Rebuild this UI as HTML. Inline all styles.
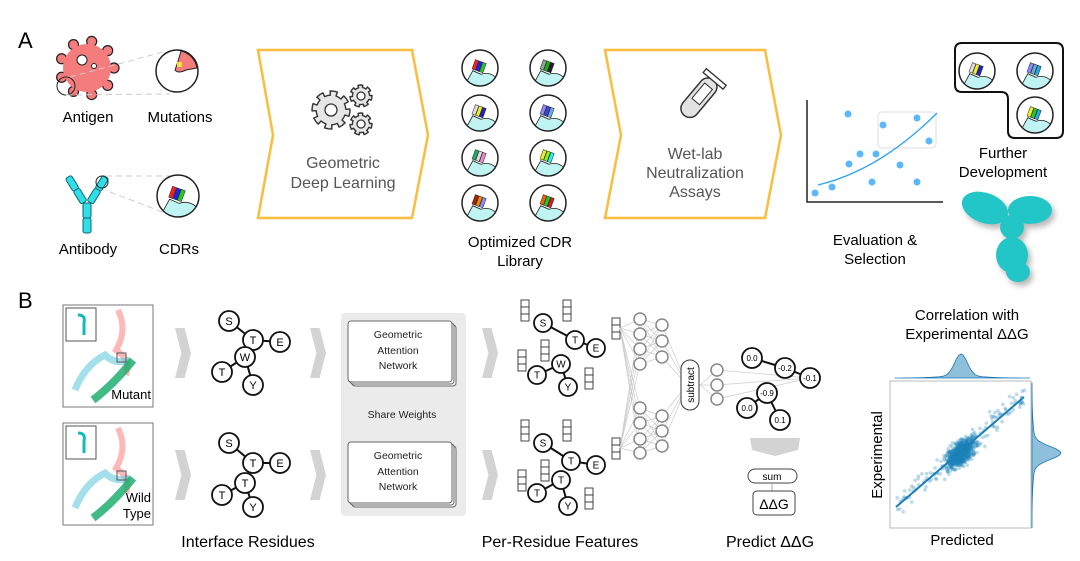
<!DOCTYPE html>
<html><head><meta charset="utf-8"><style>
html,body{margin:0;padding:0;background:#fff}
svg{display:block}
text{font-family:"Liberation Sans",sans-serif}
</style></head><body>
<svg id="s" width="1080" height="561" viewBox="0 0 1080 561" xmlns="http://www.w3.org/2000/svg">
<rect width="1080" height="561" fill="#fff"/>
<!-- A -->
<text x="18" y="48" font-size="22">A</text>
<g id="virus">
<circle cx="87" cy="68" r="22" fill="#f47c7c" stroke="#222" stroke-width="1.5"/>
</g>
<circle cx="82" cy="60" r="5" fill="#fff" stroke="#222"/>
<circle cx="94" cy="66" r="2.5" fill="#fff" stroke="#222"/>
<circle cx="66" cy="86" r="9" fill="none" stroke="#222"/>
<line x1="70" y1="77" x2="163" y2="52" stroke="#ccc" stroke-dasharray="6,4"/>
<line x1="66" y1="95" x2="170" y2="94" stroke="#ccc" stroke-dasharray="6,4"/>
<circle cx="177" cy="71" r="21" fill="#fff" stroke="#222" stroke-width="1.5"/>
<path d="M181 51 A21 21 0 0 1 197 68 L186 70 Q178 74 175 70 Q178 62 181 51Z" fill="#f47c7c" stroke="#222"/>
<rect x="177" y="62" width="5" height="5" fill="#f4e23a"/>
<text x="88" y="122" font-size="15" text-anchor="middle">Antigen</text>
<text x="180" y="122" font-size="15" text-anchor="middle">Mutations</text>
<!-- antibody -->
<g fill="#2fdfe6" stroke="#167" stroke-width="1">
<rect x="83" y="203" width="8" height="15" rx="2"/>
<rect x="83" y="218" width="8" height="15" rx="2"/>
<g transform="rotate(-32 85 203)"><rect x="81" y="172" width="7" height="15" rx="2"/><rect x="81" y="187" width="7" height="15" rx="2"/></g>
<g transform="rotate(32 89 203)"><rect x="86" y="172" width="7" height="15" rx="2"/><rect x="86" y="187" width="7" height="15" rx="2"/></g>
</g>
<circle cx="102" cy="182" r="6" fill="none" stroke="#222"/>
<line x1="106" y1="176" x2="170" y2="176" stroke="#ccc" stroke-dasharray="6,4"/>
<line x1="110" y1="192" x2="165" y2="213" stroke="#ccc" stroke-dasharray="6,4"/>
<text x="88" y="254" font-size="15" text-anchor="middle">Antibody</text>
<text x="179" y="254" font-size="15" text-anchor="middle">CDRs</text>
<!-- chevron 1 -->
<polygon points="258,50 412,50 428,135 412,218 258,218 273,135" fill="#fff" stroke="#fbbd3e" stroke-width="2.5"/>
<g id="gears"></g>
<text x="343" y="168" font-size="16" fill="#555" text-anchor="middle">Geometric</text>
<text x="343" y="188" font-size="16" fill="#555" text-anchor="middle">Deep Learning</text>
<g id="lib"></g>
<text x="520" y="247" font-size="15" text-anchor="middle">Optimized CDR</text>
<text x="520" y="266" font-size="15" text-anchor="middle">Library</text>
<!-- chevron 2 -->
<polygon points="605,50 765,50 781,135 765,218 605,218 621,135" fill="#fff" stroke="#fbbd3e" stroke-width="2.5"/>
<g transform="rotate(40 697 100)">
<rect x="688" y="74" width="18" height="46" rx="9" fill="#e2e2e2" stroke="#333" stroke-width="1.5"/>
<rect x="684" y="70" width="26" height="5" fill="#fff" stroke="#333" stroke-width="1.3"/>
<rect x="692" y="82" width="10" height="20" fill="#fff" stroke="#333"/>
</g>
<text x="695" y="159" font-size="16" fill="#555" text-anchor="middle">Wet-lab</text>
<text x="695" y="178" font-size="16" fill="#555" text-anchor="middle">Neutralization</text>
<text x="695" y="197" font-size="16" fill="#555" text-anchor="middle">Assays</text>
<!-- scatter A -->
<path d="M807 100 V202 H943" fill="none" stroke="#222" stroke-width="1.5"/>
<rect x="878" y="112" width="58" height="36" rx="4" fill="none" stroke="#ddd"/>
<path d="M818 185 Q880 170 937 113" fill="none" stroke="#2aa3f0" stroke-width="1.3"/>
<g fill="#5cb8f8">
<circle cx="815" cy="193" r="3.5"/><circle cx="832" cy="187" r="3.5"/><circle cx="849" cy="164" r="3.5"/><circle cx="860" cy="154" r="3.5"/><circle cx="876" cy="154" r="3.5"/><circle cx="848" cy="114" r="3.5"/><circle cx="883" cy="125" r="3.5"/><circle cx="917" cy="118" r="3.5"/><circle cx="929" cy="141" r="3.5"/><circle cx="900" cy="165" r="3.5"/><circle cx="872" cy="182" r="3.5"/><circle cx="917" cy="182" r="3.5"/>
</g>
<text x="875" y="245" font-size="15" text-anchor="middle">Evaluation &amp;</text>
<text x="875" y="264" font-size="15" text-anchor="middle">Selection</text>
<path d="M962 43 H1056 Q1063 43 1063 50 V131 Q1063 138 1056 138 H1015 Q1008 138 1008 131 V99 Q1008 92 1001 92 H962 Q955 92 955 85 V50 Q955 43 962 43Z" fill="none" stroke="#111" stroke-width="2"/>
<text x="1003" y="158" font-size="15" text-anchor="middle">Further</text>
<text x="1003" y="177" font-size="15" text-anchor="middle">Development</text>
<defs><filter id="sh"><feDropShadow dx="3" dy="4" stdDeviation="3" flood-color="#888" flood-opacity="0.6"/></filter></defs>
<g fill="#21c6c6" filter="url(#sh)">
<ellipse cx="985" cy="208" rx="24" ry="15" transform="rotate(20 985 208)"/>
<ellipse cx="1030" cy="210" rx="22" ry="14"/>
<ellipse cx="1012" cy="227" rx="12" ry="12"/>
<ellipse cx="1012" cy="255" rx="16" ry="18"/>
<ellipse cx="1018" cy="272" rx="12" ry="10"/>
</g>
<!-- B -->
<text x="18" y="308" font-size="22">B</text>
<g id="bleft"></g>
<text x="248" y="547" font-size="16" text-anchor="middle">Interface Residues</text>
<rect x="341" y="313" width="125" height="203" rx="4" fill="#ebebeb"/>
<g fill="#fff" stroke="#666" stroke-width="1">
<rect x="352" y="325" width="104" height="61" rx="3"/><rect x="350" y="323" width="104" height="61" rx="3"/><rect x="348" y="321" width="104" height="61" rx="3"/>
<rect x="352" y="446" width="104" height="61" rx="3"/><rect x="350" y="444" width="104" height="61" rx="3"/><rect x="348" y="442" width="104" height="61" rx="3"/>
</g>
<g font-size="10.5" text-anchor="middle" fill="#222">
<text x="398" y="338">Geometric</text><text x="398" y="354">Attention</text><text x="398" y="369">Network</text>
<text x="398" y="459">Geometric</text><text x="398" y="475">Attention</text><text x="398" y="490">Network</text>
<text x="402" y="418">Share Weights</text>
</g>
<g id="net"></g>
<text x="560" y="547" font-size="16" text-anchor="middle">Per-Residue Features</text>
<text x="770" y="547" font-size="16" text-anchor="middle">Predict ΔΔG</text>
<polygon points="750,438 800,438 798,450 775,456 752,450" fill="#d3d3d3"/>
<rect x="748" y="469" width="49" height="14" rx="7" fill="#fff" stroke="#444"/>
<text x="772" y="480" font-size="10" text-anchor="middle">sum</text>
<line x1="772" y1="483" x2="772" y2="491" stroke="#aaa"/>
<rect x="753" y="491" width="42" height="24" rx="4" fill="#fff" stroke="#444"/>
<text x="774" y="509" font-size="14" text-anchor="middle">ΔΔG</text>
<text x="967" y="320" font-size="15" text-anchor="middle">Correlation with</text>
<text x="967" y="339" font-size="15" text-anchor="middle">Experimental ΔΔG</text>
<text x="0" y="0" font-size="15" text-anchor="middle" transform="translate(882 455) rotate(-90)">Experimental</text>
<text x="962" y="545" font-size="15" text-anchor="middle">Predicted</text>
<g id="corr"></g>
</svg>
<script>
var NS="http://www.w3.org/2000/svg";
function el(p,t,a,txt){var e=document.createElementNS(NS,t);for(var k in a)e.setAttribute(k,a[k]);if(txt!=null)e.textContent=txt;p.appendChild(e);return e;}
var s=document.getElementById('s');
// gears
var gg=document.getElementById('gears');
function gear(cx,cy,R,n,hole){var d='';var N=n*4;for(var i=0;i<N;i++){var a=i*2*Math.PI/N-Math.PI/N/2;var r=(i%4<2)?R:R*0.78;var a2=a+2*Math.PI/N;
 d+=(i?'L':'M')+(cx+r*Math.cos(a)).toFixed(1)+' '+(cy+r*Math.sin(a)).toFixed(1)+' L'+(cx+r*Math.cos(a2)).toFixed(1)+' '+(cy+r*Math.sin(a2)).toFixed(1)+' ';}
 el(gg,'path',{d:d+'Z',fill:'#e6e6e6',stroke:'#333','stroke-width':1.4,'stroke-linejoin':'round'});
 el(gg,'circle',{cx:cx,cy:cy,r:hole,fill:'#fff',stroke:'#333','stroke-width':1.3});}
gear(331,110,19,8,6);gear(361,96,11,7,4);gear(361,124,11,7,4);
var v=document.getElementById('virus');
for(var i=0;i<9;i++){var a=i*2*Math.PI/9;el(v,'circle',{cx:87+27*Math.cos(a),cy:68+27*Math.sin(a),r:5,fill:'#f47c7c',stroke:'#222','stroke-width':1.2});}
el(v,'circle',{cx:87,cy:68,r:24,fill:'#f47c7c'});
function cdr(g,cx,cy,r,cols){el(g,'circle',{cx:cx,cy:cy,r:r,fill:'#fff',stroke:'#222','stroke-width':1.5});
 el(g,'path',{d:'M'+(cx-r*0.7)+' '+(cy+r*0.7)+' L'+(cx-r*0.4)+' '+(cy+r*0.15)+' L'+(cx+r*0.05)+' '+(cy+r*0.35)+' Q'+(cx+r*0.5)+' '+(cy+r*0.2)+' '+(cx+r*0.85)+' '+(cy+r*0.5)+' A'+r+' '+r+' 0 0 1 '+(cx-r*0.7)+' '+(cy+r*0.7)+'Z',fill:'#bff4f2',stroke:'#222','stroke-width':0.8});
 for(var j=0;j<3;j++){el(g,'rect',{x:cx-r*0.4+j*r*0.22,y:cy-r*0.35,width:r*0.2,height:r*0.55,fill:cols[j],stroke:'#222','stroke-width':0.5,transform:'rotate(20 '+cx+' '+cy+')'});}}
cdr(s,178,196,21,['#e22','#22e','#2c2']);
var lib=document.getElementById('lib');
var C=[['#e22','#22e','#2c2'],['#8a8','#2a2','#222'],['#ddd','#ee2','#22c'],['#88f','#44c','#6ae'],['#2a6','#ddd','#e8c'],['#ee2','#8e2','#2ee'],['#a20','#e80','#88f'],['#e60','#2c2','#c22']];
for(var r=0;r<4;r++)for(var c=0;c<2;c++)cdr(lib,480+c*68,68+r*45,18,C[r*2+c]);
cdr(s,977,71,18,['#ddd','#ee2','#22c']);cdr(s,1035,71,18,['#88f','#6ad','#2ad']);cdr(s,1035,115,18,['#ee2','#2c2','#2ad']);
var b=document.getElementById('bleft');
[[63,305,'Mutant'],[63,423,'Wild Type']].forEach(function(o,k){var x=o[0],y=o[1];
 el(b,'rect',{x:x,y:y,width:90,height:102,fill:'#fff',stroke:'#777'});
 el(b,'path',{d:'M'+(x+55)+' '+(y+5)+' q10 20 -2 40 q15 10 10 25',fill:'none',stroke:'#f88','stroke-width':6,opacity:0.6});
 el(b,'path',{d:'M'+(x+12)+' '+(y+85)+' q10 -25 30 -35 q10 10 25 5',fill:'none',stroke:'#6cd','stroke-width':7,opacity:0.6});
 el(b,'path',{d:'M'+(x+30)+' '+(y+95)+' q20 -15 40 -40',fill:'none',stroke:'#1a6','stroke-width':8,opacity:0.8});
 el(b,'rect',{x:x+3,y:y+3,width:30,height:33,fill:'#fff',stroke:'#555'});
 el(b,'path',{d:'M'+(x+15)+' '+(y+10)+' q8 0 6 8 v12',fill:'none',stroke:'#1bb','stroke-width':3});
 el(b,'rect',{x:x+54,y:y+48,width:9,height:9,fill:'none',stroke:'#555'});
 if(k==0)el(b,'text',{x:x+88,y:y+94,'font-size':13,'text-anchor':'end'},'Mutant');
 else{el(b,'text',{x:x+88,y:y+79,'font-size':13,'text-anchor':'end'},'Wild');el(b,'text',{x:x+88,y:y+95,'font-size':13,'text-anchor':'end'},'Type');}
});
function chev(x,y,w,h){el(s,'polygon',{points:[x,y,x+w*0.6,y,x+w,y+h/2,x+w*0.6,y+h,x,y+h,x+w*0.4,y+h/2].join(' '),fill:'#d3d3d3'});}
[175,310,482].forEach(function(x){chev(x,328,16,50);chev(x,450,16,50);});
function graph(g,pts,edges,labels,rr,fs){edges.forEach(function(e){el(g,'line',{x1:pts[e[0]][0],y1:pts[e[0]][1],x2:pts[e[1]][0],y2:pts[e[1]][1],stroke:'#111','stroke-width':2});});
 pts.forEach(function(p,i){el(g,'circle',{cx:p[0],cy:p[1],r:rr,fill:'#fff',stroke:'#111','stroke-width':1.8});el(g,'text',{x:p[0],y:p[1]+fs*0.36,'font-size':fs,'text-anchor':'middle'},labels[i]);});}
var E=[[0,1],[1,2],[3,4],[3,5]];
graph(s,[[229,321],[253,340],[280,342],[245,357],[222,372],[253,385]],E,['S','T','E','W','T','Y'],10,11);
graph(s,[[229,443],[253,463],[280,463],[245,483],[222,495],[253,507]],E,['S','T','E','T','T','Y'],10,11);
var n=document.getElementById('net');
function stack(x,y){for(var i=0;i<3;i++)el(n,'rect',{x:x,y:y+i*7,width:8,height:7,fill:'#fff',stroke:'#333','stroke-width':0.9});}
[[0,0],[0,120]].forEach(function(o){var dy=o[1];
 stack(521,300+dy);stack(563,300+dy);stack(541,340+dy);stack(518,350+dy);stack(585,368+dy);
 });
graph(n,[[543,323],[575,340],[596,348],[561,364],[537,375],[568,387]],E,['S','T','E','W','T','Y'],9,10);
graph(n,[[543,443],[571,461],[596,465],[561,480],[537,493],[568,506]],E,['S','T','E','T','T','Y'],9,10);
stack(612,318);stack(612,438);
var L1=[319,334,349,364,408,423,439,453],L2=[325,341,357,416,431,446],L3=[370,385,399];
var g2=el(n,'g',{stroke:'#ccc','stroke-width':0.7});
[328,448].forEach(function(y){L1.forEach(function(b){el(g2,'line',{x1:620,y1:y,x2:640,y2:b});});});
L1.forEach(function(a){L2.forEach(function(b){if((a<390)==(b<390))el(g2,'line',{x1:640,y1:a,x2:662,y2:b});});});
L2.forEach(function(a){el(g2,'line',{x1:662,y1:a,x2:687,y2:385});});
L3.forEach(function(a){el(g2,'line',{x1:700,y1:385,x2:717,y2:a});el(g2,'line',{x1:717,y1:a,x2:810,y2:378});});
L1.forEach(function(y){el(n,'circle',{cx:640,cy:y,r:6,fill:'#fff',stroke:'#888','stroke-width':1.5});});
L2.forEach(function(y){el(n,'circle',{cx:662,cy:y,r:6,fill:'#fff',stroke:'#888','stroke-width':1.5});});
L3.forEach(function(y){el(n,'circle',{cx:717,cy:y,r:6,fill:'#fff',stroke:'#888','stroke-width':1.5});});
el(n,'rect',{x:681,y:360,width:18,height:50,rx:9,fill:'#fff',stroke:'#333'});
el(n,'text',{x:0,y:0,'font-size':10,'text-anchor':'middle',transform:'translate(694 385) rotate(-90)'},'subtract');
graph(n,[[752,358],[785,368],[810,378],[767,393],[747,408],[780,420]],[[0,1],[1,2],[3,4],[3,5]],['0.0','-0.2','-0.1','-0.9','0.0','0.1'],10,8);
var cg=document.getElementById('corr');
var seed=7;function rnd(){seed=(seed*16807)%2147483647;return seed/2147483647;}
function gauss(){return (rnd()+rnd()+rnd()+rnd()-2)*1.2;}
el(cg,'rect',{x:890,y:381,width:141,height:147,fill:'#fff',stroke:'#bbb'});
for(var i=0;i<900;i++){var t=gauss();var x=961+t*9+gauss()*4,y=453-t*6+gauss()*8;if(rnd()<0.15){var u=rnd();x=895+u*130;y=507-u*110+gauss()*8;}
 if(x>891&&x<1030&&y>382&&y<527)el(cg,'circle',{cx:x,cy:y,r:1.8,fill:'#1f84b8','fill-opacity':0.3});}
el(cg,'line',{x1:896,y1:507,x2:1024,y2:397,stroke:'#1a7fb5','stroke-width':2});
var tp='M895 378',rp='M1032 383';
for(var x=895;x<=1030;x+=2){var h=22*Math.exp(-Math.pow((x-961)/9,2))+2*Math.exp(-Math.pow((x-961)/30,2));tp+=' L'+x+' '+(378-h);}
el(cg,'path',{d:tp+' L1030 378Z',fill:'#8fc0db',stroke:'#1f77b4','stroke-width':0.8});
for(var y=383;y<=528;y+=2){var w=26*Math.exp(-Math.pow((y-453)/9,2))+3*Math.exp(-Math.pow((y-453)/30,2));rp+=' L'+(1032+w)+' '+y;}
el(cg,'path',{d:rp+' L1032 528Z',fill:'#8fc0db',stroke:'#1f77b4','stroke-width':0.8});
</script>
</body></html>
